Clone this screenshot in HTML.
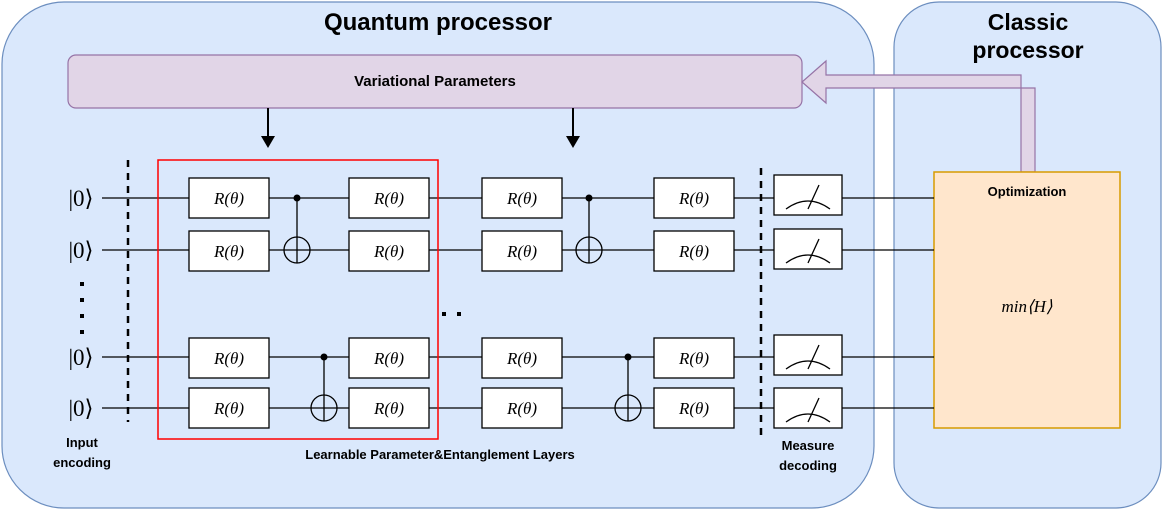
<!DOCTYPE html>
<html><head><meta charset="utf-8"><style>
html,body{margin:0;padding:0;background:#fff;}
svg{display:block;}
text{font-family:"Liberation Sans",sans-serif;}
.m text,text.m{font-family:"Liberation Serif",serif;font-style:italic;font-size:17px;}
.k text{font-family:"Liberation Serif",serif;font-size:23px;}
</style></head><body>
<svg width="1163" height="512" viewBox="0 0 1163 512" xmlns="http://www.w3.org/2000/svg">
<rect x="2" y="2" width="872" height="506" rx="62" fill="#dae8fc" stroke="#6c8ebf" stroke-width="1.2"/>
<rect x="894" y="2" width="267" height="506" rx="45" fill="#dae8fc" stroke="#6c8ebf" stroke-width="1.2"/>
<text x="438" y="30" font-size="24" font-weight="bold" text-anchor="middle">Quantum processor</text>
<text x="1028" y="30" font-size="23" font-weight="bold" text-anchor="middle">Classic</text>
<text x="1028" y="58" font-size="23" font-weight="bold" text-anchor="middle">processor</text>
<rect x="68" y="55" width="734" height="53" rx="8" fill="#e1d5e7" stroke="#9673a6" stroke-width="1.2"/>
<text x="435" y="86" font-size="15" font-weight="bold" text-anchor="middle">Variational Parameters</text>
<path d="M1035,172 L1035,88 L826,88 L826,103 L802,82 L826,61 L826,75 L1021,75 L1021,172 Z" fill="#e1d5e7" stroke="#9673a6" stroke-width="1.2"/>
<g stroke="#000" stroke-width="2" fill="#000">
<line x1="268" y1="108" x2="268" y2="138"/><path d="M261,136 L268,148 L275,136 Z" stroke="none"/>
<line x1="573" y1="108" x2="573" y2="138"/><path d="M566,136 L573,148 L580,136 Z" stroke="none"/>
</g>
<rect x="934" y="172" width="186" height="256" fill="#ffe6cc" stroke="#d79b00" stroke-width="1.5"/>
<text x="1027" y="196" font-size="13" font-weight="bold" text-anchor="middle">Optimization</text>
<text x="1027" y="312" class="m" text-anchor="middle">min⟨H⟩</text>
<g stroke="#000" stroke-width="1.3">
<line x1="102" y1="198" x2="934" y2="198"/>
<line x1="102" y1="250" x2="934" y2="250"/>
<line x1="102" y1="357" x2="934" y2="357"/>
<line x1="102" y1="408" x2="934" y2="408"/>
</g>
<g stroke="#000" stroke-width="2.5" stroke-dasharray="7,6">
<line x1="128" y1="160" x2="128" y2="422"/>
<line x1="761" y1="168" x2="761" y2="435"/>
</g>
<rect x="158" y="160" width="280" height="279" fill="none" stroke="#ff0000" stroke-width="1.5"/>
<g fill="#fff" stroke="#000" stroke-width="1.3">
<rect x="189" y="178" width="80" height="40"/><rect x="189" y="231" width="80" height="40"/>
<rect x="189" y="338" width="80" height="40"/><rect x="189" y="388" width="80" height="40"/>
<rect x="349" y="178" width="80" height="40"/><rect x="349" y="231" width="80" height="40"/>
<rect x="349" y="338" width="80" height="40"/><rect x="349" y="388" width="80" height="40"/>
<rect x="482" y="178" width="80" height="40"/><rect x="482" y="231" width="80" height="40"/>
<rect x="482" y="338" width="80" height="40"/><rect x="482" y="388" width="80" height="40"/>
<rect x="654" y="178" width="80" height="40"/><rect x="654" y="231" width="80" height="40"/>
<rect x="654" y="338" width="80" height="40"/><rect x="654" y="388" width="80" height="40"/>
<rect x="774" y="175" width="68" height="40"/><rect x="774" y="229" width="68" height="40"/>
<rect x="774" y="335" width="68" height="40"/><rect x="774" y="388" width="68" height="40"/>
</g>
<g class="m" text-anchor="middle">
<text x="229" y="204">R(θ)</text><text x="229" y="257">R(θ)</text><text x="229" y="364">R(θ)</text><text x="229" y="414">R(θ)</text>
<text x="389" y="204">R(θ)</text><text x="389" y="257">R(θ)</text><text x="389" y="364">R(θ)</text><text x="389" y="414">R(θ)</text>
<text x="522" y="204">R(θ)</text><text x="522" y="257">R(θ)</text><text x="522" y="364">R(θ)</text><text x="522" y="414">R(θ)</text>
<text x="694" y="204">R(θ)</text><text x="694" y="257">R(θ)</text><text x="694" y="364">R(θ)</text><text x="694" y="414">R(θ)</text>
</g>
<g stroke="#000" stroke-width="1.3" fill="none">
<path d="M786,209 Q808,193 830,209 M808,209 L819,185"/>
<path d="M786,263 Q808,247 830,263 M808,263 L819,239"/>
<path d="M786,369 Q808,353 830,369 M808,369 L819,345"/>
<path d="M786,422 Q808,406 830,422 M808,422 L819,398"/>
<line x1="297" y1="198" x2="297" y2="263"/><circle cx="297" cy="250" r="13"/>
<line x1="589" y1="198" x2="589" y2="263"/><circle cx="589" cy="250" r="13"/>
<line x1="324" y1="357" x2="324" y2="421"/><circle cx="324" cy="408" r="13"/>
<line x1="628" y1="357" x2="628" y2="421"/><circle cx="628" cy="408" r="13"/>
</g>
<g fill="#000"><circle cx="297" cy="198" r="3.5"/><circle cx="589" cy="198" r="3.5"/><circle cx="324" cy="357" r="3.5"/><circle cx="628" cy="357" r="3.5"/>
<rect x="80" y="282" width="4" height="4"/><rect x="80" y="298" width="4" height="4"/><rect x="80" y="314" width="4" height="4"/><rect x="80" y="330" width="4" height="4"/>
<rect x="442" y="312" width="4" height="4"/><rect x="457" y="312" width="4" height="4"/>
</g>
<g class="k" text-anchor="middle">
<text x="81" y="206">|0⟩</text><text x="81" y="258">|0⟩</text><text x="81" y="365">|0⟩</text><text x="81" y="416">|0⟩</text>
</g>
<g font-size="13" font-weight="bold" text-anchor="middle">
<text x="82" y="447">Input</text><text x="82" y="467">encoding</text>
<text x="440" y="459">Learnable Parameter&amp;Entanglement Layers</text>
<text x="808" y="450">Measure</text><text x="808" y="470">decoding</text>
</g>
</svg>
</body></html>
